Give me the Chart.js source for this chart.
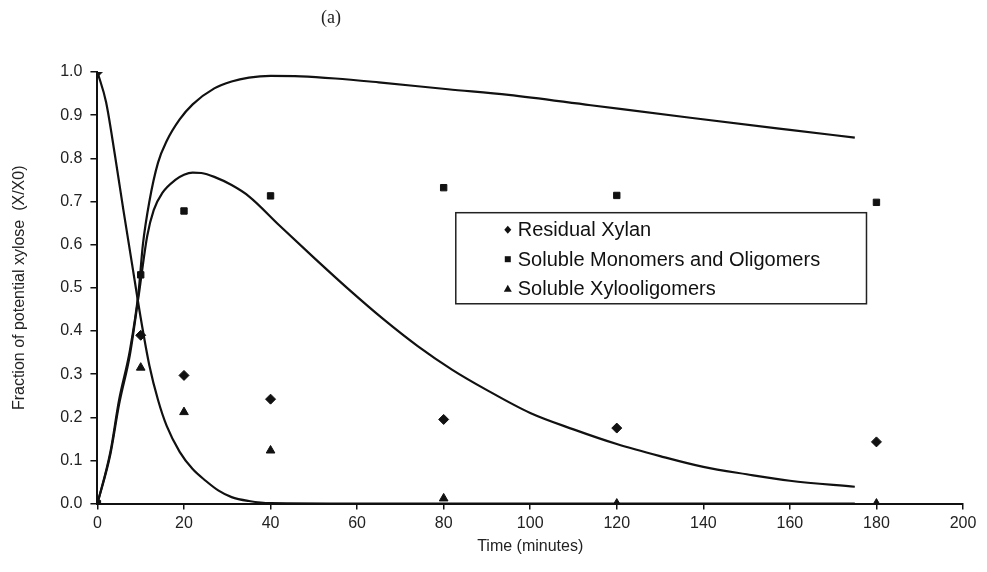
<!DOCTYPE html>
<html>
<head>
    <title>Fraction of potential xylose</title>
    <meta charset="UTF-8">
    <script src="https://cdn.jsdelivr.net/npm/chart.js"></script>
    <style>
        body { margin: 0; background: #fff; }
        #wrap { width: 987px; height: 572px; }
    </style>
</head>
<body>
<div id="wrap"><canvas id="xylan_chart"></canvas></div>
<script>
    // measured points
    var sampleTimes = [0, 10, 20, 40, 80, 120, 180];
    var residualXylan = [1.0, 0.39, 0.297, 0.242, 0.195, 0.175, 0.143];
    var solubleMonoOligo = [0.0, 0.53, 0.678, 0.713, 0.732, 0.714, 0.698];
    var solubleXylooligo = [0.0, 0.315, 0.212, 0.123, 0.012, 0.0, 0.0];

    // model curves
    var curveATimes = [0, 2, 4, 6, 8, 10, 12, 14, 16, 19, 22, 25, 28, 31, 35, 40, 60, 175];
    var curveAValues = [1.0, 0.93, 0.81, 0.68, 0.555, 0.43, 0.32, 0.24, 0.18, 0.12, 0.08, 0.053, 0.03, 0.015, 0.006, 0.001, 0, 0];

    var curveBTimes = [0, 3, 5, 7.5, 9.5, 10.5, 12, 14, 16, 19, 22, 27, 31, 35, 40, 47, 55, 65, 81, 95, 114, 137, 160, 175];
    var curveBValues = [0, 0.12, 0.24, 0.355, 0.49, 0.6, 0.70, 0.79, 0.84, 0.89, 0.925, 0.962, 0.978, 0.987, 0.991, 0.99, 0.985, 0.976, 0.96, 0.947, 0.923, 0.894, 0.866, 0.848];

    var curveCTimes = [0, 3, 5, 7.5, 9.5, 11.5, 13, 15, 18, 20, 22, 24, 27, 31, 35, 42, 50, 58, 66, 74, 82, 90, 100, 110, 120, 130, 140, 150, 160, 175];
    var curveCValues = [0, 0.115, 0.23, 0.345, 0.48, 0.62, 0.68, 0.72, 0.75, 0.762, 0.767, 0.766, 0.757, 0.738, 0.712, 0.645, 0.57, 0.497, 0.428, 0.365, 0.31, 0.263, 0.21, 0.172, 0.138, 0.11, 0.085, 0.068, 0.053, 0.039];

    var legendLabels = ['Residual Xylan', 'Soluble Monomers and Oligomers', 'Soluble Xylooligomers'];
    var legendStyles = ['rectRot', 'rect', 'triangle'];

    function toXY(xs, ys) {
        return xs.map(function (x, i) { return { x: x, y: ys[i] }; });
    }

    function lineSet(xs, ys) {
        return {
            data: toXY(xs, ys),
            showLine: true,
            borderColor: '#111',
            borderWidth: 2.2,
            pointRadius: 0,
            cubicInterpolationMode: 'monotone',
            fill: false
        };
    }

    function pointSet(ys, style, r) {
        return {
            data: toXY(sampleTimes, ys),
            showLine: false,
            pointStyle: style,
            pointRadius: r,
            backgroundColor: '#111',
            borderColor: '#111',
            borderWidth: 1
        };
    }

    // draws "(a)" and the boxed legend inside the plot
    var extras = {
        id: 'extras',
        afterDraw: function (chart) {
            var c = chart.ctx;
            var xs = chart.scales.x, ys = chart.scales.y;
            c.save();
            c.fillStyle = '#222';
            c.font = '18px "Liberation Serif"';
            c.textAlign = 'center';
            c.textBaseline = 'middle';
            c.fillText('(a)', 331, 18);

            var left = xs.getPixelForValue(82.8), right = xs.getPixelForValue(177.7);
            var top = ys.getPixelForValue(0.674), bottom = ys.getPixelForValue(0.463);
            c.fillStyle = '#fff';
            c.fillRect(left, top, right - left, bottom - top);
            c.strokeStyle = '#222';
            c.lineWidth = 1.5;
            c.strokeRect(left, top, right - left, bottom - top);

            c.font = '20px "Liberation Sans"';
            c.textAlign = 'left';
            c.fillStyle = '#111';
            for (var i = 0; i < legendLabels.length; i++) {
                var my = top + 17 + i * 29.5;
                var mx = left + 52;
                c.beginPath();
                if (legendStyles[i] === 'rectRot') {
                    c.moveTo(mx, my - 4); c.lineTo(mx + 3.5, my); c.lineTo(mx, my + 4); c.lineTo(mx - 3.5, my);
                } else if (legendStyles[i] === 'rect') {
                    c.rect(mx - 3, my - 3, 6, 6);
                } else {
                    c.moveTo(mx, my - 4); c.lineTo(mx + 4, my + 3); c.lineTo(mx - 4, my + 3);
                }
                c.closePath();
                c.fill();
                c.fillText(legendLabels[i], left + 62, my + 1);
            }
            c.restore();
        }
    };

    var ctx = document.getElementById('xylan_chart').getContext('2d');
    var chart = new Chart(ctx, {
        type: 'scatter',
        data: {
            datasets: [
                lineSet(curveATimes, curveAValues),
                lineSet(curveBTimes, curveBValues),
                lineSet(curveCTimes, curveCValues),
                pointSet(residualXylan, 'rectRot', 5),
                pointSet(solubleMonoOligo, 'rect', 4.5),
                pointSet(solubleXylooligo, 'triangle', 5)
            ]
        },
        options: {
            responsive: true,
            maintainAspectRatio: false,
            animation: false,
            layout: { padding: { top: 72, right: 24, bottom: 16, left: 6 } },
            plugins: {
                legend: { display: false },
                tooltip: { enabled: false }
            },
            scales: {
                x: {
                    type: 'linear',
                    min: 0,
                    max: 200,
                    grid: { drawOnChartArea: false, drawTicks: true, tickLength: 6, color: '#111', lineWidth: 1.5 },
                    border: { display: true, color: '#111', width: 2 },
                    ticks: { stepSize: 20, color: '#222', font: { family: 'Liberation Sans', size: 16 }, padding: 4 },
                    title: { display: true, text: 'Time (minutes)', color: '#222', font: { family: 'Liberation Sans', size: 16 }, padding: { top: 0, bottom: 0 } }
                },
                y: {
                    min: 0,
                    max: 1,
                    grid: { drawOnChartArea: false, drawTicks: true, tickLength: 7, color: '#111', lineWidth: 1.5 },
                    border: { display: true, color: '#111', width: 2 },
                    ticks: {
                        stepSize: 0.1,
                        color: '#222',
                        font: { family: 'Liberation Sans', size: 16 },
                        padding: 8,
                        callback: function (v) { return v.toFixed(1); }
                    },
                    title: { display: true, text: 'Fraction of potential xylose  (X/X0)', color: '#222', font: { family: 'Liberation Sans', size: 16 }, padding: { top: 4, bottom: 23 } }
                }
            }
        },
        plugins: [extras]
    });
</script>
</body>
</html>
